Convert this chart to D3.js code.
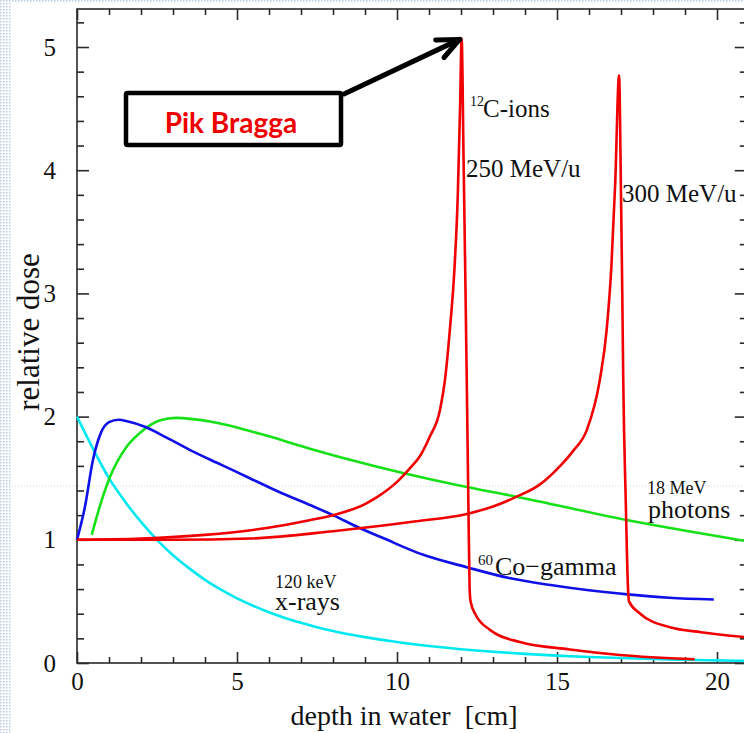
<!DOCTYPE html>
<html>
<head>
<meta charset="utf-8">
<script src="https://cdn.jsdelivr.net/npm/d3@7"></script>
<style>
  body { margin: 0; background: #fff; }
  svg { display: block; }
  text { font-family: "Liberation Serif", "Times New Roman", serif; fill: #111; }
</style>
</head>
<body>
<script>
// Depth-dose curves in water (depth in cm, dose relative to entrance)
const xraysDepth = [0, 0.5, 1, 1.5, 2, 2.5, 3, 3.5, 4, 4.5, 5, 5.5, 6, 6.5, 7, 7.5, 8, 9, 10, 11, 12, 13, 14, 15, 16, 17, 18, 19, 20, 21];
const xraysDose  = [2.0, 1.74, 1.5, 1.31, 1.145, 1.0, 0.875, 0.77, 0.675, 0.595, 0.525, 0.465, 0.412, 0.366, 0.326, 0.291, 0.26, 0.21, 0.17, 0.138, 0.112, 0.091, 0.074, 0.06, 0.049, 0.04, 0.032, 0.026, 0.021, 0.017];

const cobaltDepth = [0, 0.25, 0.5, 0.75, 1.0, 1.3, 1.6, 2.1, 2.8, 3.6, 4.5, 5.4, 6.3, 7.3, 8.0, 8.8, 9.6, 10.8, 12.2, 13.5, 14.8, 16.0, 17.2, 18.5, 19.9];
const cobaltDose  = [1.0, 1.27, 1.65, 1.87, 1.955, 1.975, 1.96, 1.92, 1.83, 1.72, 1.61, 1.5, 1.39, 1.28, 1.2, 1.1, 1.01, 0.88, 0.776, 0.69, 0.633, 0.59, 0.557, 0.53, 0.516];

const photonDepth = [0.46, 0.77, 1.03, 1.55, 2.07, 2.6, 3.1, 4.16, 5.72, 7.28, 8.53, 11.87, 13.74, 17.18, 20.9];
const photonDose  = [1.04, 1.32, 1.51, 1.755, 1.89, 1.97, 1.99, 1.96, 1.86, 1.74, 1.65, 1.445, 1.35, 1.16, 0.99];

const carbon250Depth = [0, 2, 4, 5.5, 6.5, 7.3, 8.0, 9.0, 9.4, 10.0, 10.4, 10.72, 11.03, 11.34, 11.5, 11.65, 11.8, 11.9, 11.97, 12.02, 12.08, 12.13, 12.18, 12.23, 12.27, 12.3, 12.44, 12.9, 13.84, 15.4, 16.97, 19.3];
const carbon250Dose  = [1.0, 1.01, 1.04, 1.08, 1.12, 1.16, 1.2, 1.29, 1.35, 1.47, 1.58, 1.68, 1.84, 2.05, 2.3, 2.7, 3.22, 3.8, 4.5, 5.07, 4.1, 3.22, 2.3, 1.3, 0.6, 0.5, 0.4, 0.27, 0.17, 0.11, 0.065, 0.03];

const carbon300Depth = [0, 3, 5.4, 8.0, 10.6, 12.18, 13.0, 13.74, 14.47, 15.1, 15.5, 15.93, 16.34, 16.55, 16.7, 16.82, 16.94, 17.0, 17.04, 17.07, 17.15, 17.22, 17.25, 17.6, 18.53, 19.5, 20.9];
const carbon300Dose  = [1.0, 1.0, 1.01, 1.07, 1.15, 1.21, 1.27, 1.35, 1.45, 1.6, 1.72, 1.89, 2.3, 2.7, 3.22, 3.9, 4.77, 3.8, 3.0, 2.3, 1.3, 0.6, 0.5, 0.4, 0.29, 0.25, 0.21];

const xMajorTicks = [0, 5, 10, 15, 20];
const yMajorTicks = [0, 1, 2, 3, 4, 5];

const W = 744, H = 733;
const svg = d3.select("body").append("svg").attr("width", W).attr("height", H);

// slide edge texture along the left and top borders
const defs = svg.append("defs");
const pat = defs.append("pattern").attr("id", "dots").attr("width", 3).attr("height", 3)
  .attr("patternUnits", "userSpaceOnUse");
pat.append("rect").attr("width", 3).attr("height", 3).attr("fill", "#fff");
pat.append("rect").attr("width", 1.5).attr("height", 1.5).attr("fill", "#b9c9e6");
svg.append("rect").attr("x", 0).attr("y", 0).attr("width", 11).attr("height", H).attr("fill", "url(#dots)");
svg.append("rect").attr("x", 0).attr("y", 0).attr("width", W).attr("height", 3).attr("fill", "url(#dots)");

const x = d3.scaleLinear().domain([0, 20.9]).range([77, 77 + 20.9 * 32]);
const y = d3.scaleLinear().domain([0, 5.3085]).range([663, 9]);

const axisColor = "#2a2a2a";

// frame
svg.append("rect")
  .attr("x", x(0)).attr("y", y(5.3085))
  .attr("width", x(20.9) - x(0)).attr("height", y(0) - y(5.3085))
  .attr("fill", "none").attr("stroke", axisColor).attr("stroke-width", 1.6);

const xMinor = d3.range(0, 21, 1).filter(v => v % 5 !== 0);
const yMinor = d3.range(0, 5.3, 0.2).map(v => +v.toFixed(1)).filter(v => Math.abs(v - Math.round(v)) > 1e-6);

function styleAxis(g) {
  g.select(".domain").remove();
  g.selectAll(".tick line").attr("stroke", axisColor).attr("stroke-width", 1.6);
}

// bottom
svg.append("g").attr("transform", `translate(0,${y(0)})`)
  .call(d3.axisBottom(x).tickValues(xMajorTicks).tickSizeInner(-11).tickSizeOuter(0).tickPadding(22).tickFormat(d3.format("d")))
  .call(styleAxis)
  .call(g => g.selectAll(".tick text").attr("font-family", "Liberation Serif, serif").attr("font-size", 25).attr("fill", "#111").attr("dy", "0.2em"));
svg.append("g").attr("transform", `translate(0,${y(0)})`)
  .call(d3.axisBottom(x).tickValues(xMinor).tickSizeInner(-6).tickSizeOuter(0).tickFormat(""))
  .call(styleAxis);
// top
svg.append("g").attr("transform", `translate(0,${y(5.3085)})`)
  .call(d3.axisTop(x).tickValues(xMajorTicks).tickSizeInner(-11).tickSizeOuter(0).tickFormat(""))
  .call(styleAxis);
svg.append("g").attr("transform", `translate(0,${y(5.3085)})`)
  .call(d3.axisTop(x).tickValues(xMinor).tickSizeInner(-6).tickSizeOuter(0).tickFormat(""))
  .call(styleAxis);
// left
svg.append("g").attr("transform", `translate(${x(0)},0)`)
  .call(d3.axisLeft(y).tickValues(yMajorTicks).tickSizeInner(-12).tickSizeOuter(0).tickPadding(21).tickFormat(d3.format("d")))
  .call(styleAxis)
  .call(g => g.selectAll(".tick text").attr("font-family", "Liberation Serif, serif").attr("font-size", 25).attr("fill", "#111"));
svg.append("g").attr("transform", `translate(${x(0)},0)`)
  .call(d3.axisLeft(y).tickValues(yMinor).tickSizeInner(-7).tickSizeOuter(0).tickFormat(""))
  .call(styleAxis);
// right
svg.append("g").attr("transform", `translate(${x(20.9)},0)`)
  .call(d3.axisRight(y).tickValues(yMajorTicks).tickSizeInner(-11).tickSizeOuter(0).tickFormat(""))
  .call(styleAxis);
svg.append("g").attr("transform", `translate(${x(20.9)},0)`)
  .call(d3.axisRight(y).tickValues(yMinor).tickSizeInner(-6).tickSizeOuter(0).tickFormat(""))
  .call(styleAxis);

// axis titles
svg.append("text")
  .attr("x", 404).attr("y", 725)
  .attr("text-anchor", "middle").attr("font-size", 28)
  .style("white-space", "pre")
  .text("depth in water  [cm]");
svg.append("text")
  .attr("transform", "translate(39,332) rotate(-90)")
  .attr("text-anchor", "middle").attr("font-size", 31)
  .text("relative dose");

// faint seam line across the slide
svg.append("line").attr("x1", 0).attr("x2", W).attr("y1", 486).attr("y2", 486)
  .attr("stroke", "#d8d8d8").attr("stroke-width", 1).attr("stroke-dasharray", "1,2");

// curves
const line = d3.line().x(d => x(d[0])).y(d => y(d[1])).curve(d3.curveMonotoneX);
const series = [
  { depth: xraysDepth, dose: xraysDose, color: "#00e8f0" },
  { depth: photonDepth, dose: photonDose, color: "#16e016" },
  { depth: cobaltDepth, dose: cobaltDose, color: "#1010e8" },
  { depth: carbon250Depth, dose: carbon250Dose, color: "#f00000" },
  { depth: carbon300Depth, dose: carbon300Dose, color: "#f00000" }
];
const plot = svg.append("g");
series.forEach(s => {
  plot.append("path")
    .datum(d3.zip(s.depth, s.dose))
    .attr("fill", "none")
    .attr("stroke", s.color)
    .attr("stroke-width", 2.6)
    .attr("stroke-linejoin", "round")
    .attr("d", line);
});

// curve labels
function label(xp, yp, txt, size) {
  return svg.append("text").attr("x", xp).attr("y", yp).attr("font-size", size).text(txt);
}
label(470, 106, "12", 14);
label(483, 117, "C-ions", 25);
label(466, 177, "250 MeV/u", 25);
label(622, 202, "300 MeV/u", 25);
label(647, 494, "18 MeV", 18);
label(648, 518, "photons", 26);
label(478, 565, "60", 15);
label(495, 575, "Co\u2212gamma", 26);
label(275, 588, "120 keV", 18);
label(275, 610, "x-rays", 26);

// Bragg peak callout
const tip = [x(carbon250Depth[carbon250Dose.indexOf(d3.max(carbon250Dose))]), y(d3.max(carbon250Dose))];
const start = [344, 94];
const ang = Math.atan2(start[1] - tip[1], start[0] - tip[0]);
const arm = 26, spread = 22 * Math.PI / 180;
const ann = svg.append("g").attr("stroke", "#000").attr("stroke-width", 5).attr("stroke-linecap", "round").attr("fill", "none");
ann.append("line").attr("x1", start[0]).attr("y1", start[1]).attr("x2", tip[0] - 2).attr("y2", tip[1] + 1);
ann.append("polyline").attr("stroke-linejoin", "round").attr("points", [
  [tip[0] + arm * Math.cos(ang + spread), tip[1] + arm * Math.sin(ang + spread)],
  [tip[0] - 2, tip[1] + 1],
  [tip[0] + arm * Math.cos(ang - spread), tip[1] + arm * Math.sin(ang - spread)]
].map(p => p.join(",")).join(" "));

svg.append("rect").attr("x", 126).attr("y", 93).attr("width", 215).attr("height", 52)
  .attr("fill", "#fff").attr("stroke", "#000").attr("stroke-width", 4.5).attr("rx", 1.5);
svg.append("text").attr("x", 231).attr("y", 133)
  .attr("text-anchor", "middle")
  .style("font-family", "Lato, 'Open Sans', sans-serif").style("font-weight", 700)
  .attr("font-size", 28).style("fill", "#ee0000")
  .text("Pik Bragga");
</script>
</body>
</html>
